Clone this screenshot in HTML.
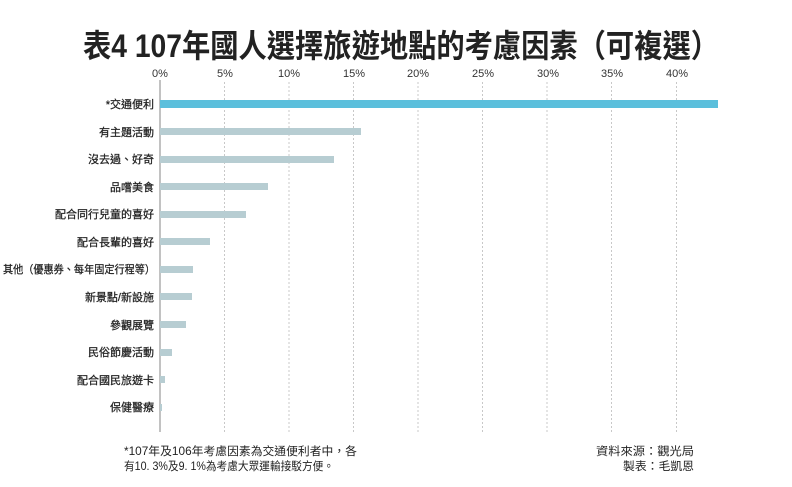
<!DOCTYPE html>
<html><head><meta charset="utf-8"><style>
html,body{margin:0;padding:0;background:#fff;}
svg{display:block;}
</style></head><body>
<svg width="792" height="487" xmlns="http://www.w3.org/2000/svg" font-family="Liberation Sans, Noto Sans CJK TC, sans-serif">
<text x="401" y="57" text-anchor="middle" font-size="32" font-weight="bold" fill="#222" textLength="636" lengthAdjust="spacingAndGlyphs" font-family="Liberation Sans, Noto Sans CJK TC, sans-serif">表4  107年國人選擇旅遊地點的考慮因素（可複選）</text>
<g font-size="11" fill="#333" text-anchor="middle">
<text x="160" y="77">0%</text><text x="225" y="77">5%</text><text x="289" y="77">10%</text><text x="354" y="77">15%</text><text x="418" y="77">20%</text><text x="483" y="77">25%</text><text x="548" y="77">30%</text><text x="612" y="77">35%</text><text x="677" y="77">40%</text>
</g>
<g stroke="#c8c8c8" stroke-width="1" stroke-dasharray="2,2">
<line x1="224.5" y1="82" x2="224.5" y2="432"/><line x1="289" y1="82" x2="289" y2="432"/><line x1="353.5" y1="82" x2="353.5" y2="432"/><line x1="418" y1="82" x2="418" y2="432"/><line x1="482.5" y1="82" x2="482.5" y2="432"/><line x1="547" y1="82" x2="547" y2="432"/><line x1="611.5" y1="82" x2="611.5" y2="432"/><line x1="676.5" y1="82" x2="676.5" y2="432"/>
</g>
<line x1="160" y1="80" x2="160" y2="432" stroke="#999" stroke-width="1.2"/>
<rect x="160" y="100" width="558" height="8" fill="#5bbfdc"/>
<g fill="#b7cdd2">
<rect x="160" y="128" width="201" height="7"/>
<rect x="160" y="156" width="174" height="7"/>
<rect x="160" y="183" width="108" height="7"/>
<rect x="160" y="211" width="86" height="7"/>
<rect x="160" y="238" width="50" height="7"/>
<rect x="160" y="266" width="33" height="7"/>
<rect x="160" y="293" width="32" height="7"/>
<rect x="160" y="321" width="26" height="7"/>
<rect x="160" y="349" width="12" height="7"/>
<rect x="160" y="376" width="5" height="7"/>
<rect x="160" y="404" width="2" height="7"/>
</g>
<g font-size="11" fill="#222" text-anchor="end" stroke="#222" stroke-width="0.25">
<text x="154" y="108">*交通便利</text>
<text x="154" y="136">有主題活動</text>
<text x="154" y="163">沒去過、好奇</text>
<text x="154" y="191">品嚐美食</text>
<text x="154" y="218">配合同行兒童的喜好</text>
<text x="154" y="246">配合長輩的喜好</text>
<text x="155" y="273" textLength="152" lengthAdjust="spacingAndGlyphs">其他（優惠券、每年固定行程等）</text>
<text x="154" y="301">新景點/新設施</text>
<text x="154" y="329">參觀展覽</text>
<text x="154" y="356">民俗節慶活動</text>
<text x="154" y="384">配合國民旅遊卡</text>
<text x="154" y="411">保健醫療</text>
</g>
<g font-size="11.5" fill="#222">
<text x="124" y="455" textLength="233" lengthAdjust="spacingAndGlyphs">*107年及106年考慮因素為交通便利者中，各</text>
<text x="124" y="470" textLength="210" lengthAdjust="spacingAndGlyphs">有10. 3%及9. 1%為考慮大眾運輸接駁方便。</text>
<text x="694" y="455" text-anchor="end" textLength="98" lengthAdjust="spacingAndGlyphs">資料來源：觀光局</text>
<text x="694" y="470" text-anchor="end" textLength="71" lengthAdjust="spacingAndGlyphs">製表：毛凱恩</text>
</g>
</svg>
</body></html>
